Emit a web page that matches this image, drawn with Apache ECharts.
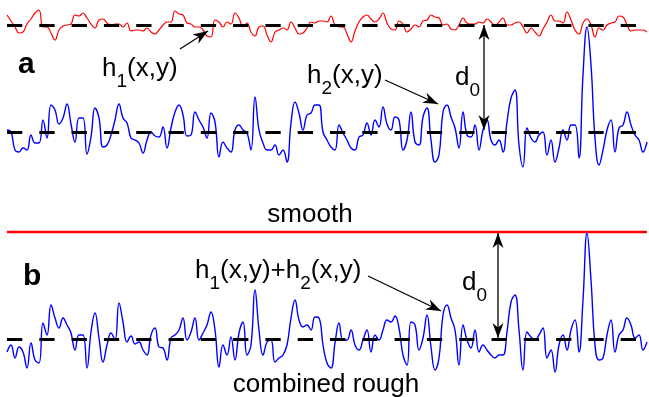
<!DOCTYPE html>
<html>
<head>
<meta charset="utf-8">
<script src="https://cdn.jsdelivr.net/npm/echarts@6/dist/echarts.min.js"></script>
<style>
  html, body { margin: 0; padding: 0; background: #fff; }
  #chart { width: 649px; height: 397px; }
</style>
</head>
<body>
<div id="chart"></div>
<script>
// gap between the two mean planes
const d0 = 107;

// h1: top (red) rough surface, deviation from its mean
const h1 = [
  10, 4, -2, -8, -7, 1, 6, 12, 15, -2, -2, -8, -15, -5, -1, 0, 1, 10, 9, 12, 7, 1, -3, 5, 6, 2, -1, 1, 1, -2,
  2, -6, -5, -5, -6, -3, -7, -9, -5, 0, 3, 3, 14, 11, 10, 2, 1, -2, -2, -5, -11, -12, 5, 3,
  -2, 3, 1, 12, 7, -2, 2, -7, -11, -2, -1, -10, -17, -7, -5, -3, -5, 3, -3, -9, -8, -3, 3, 2, 4, 4, 3, 9, 0, -2,
  -2, -9, -17, -6, 3, 8, 10, 6, 3, 6, 12, 2, -4, -5, 4, 1, -7, -4, 0, -2, 4, 5, 10,
  8, 7, 0, 1, -4, -5, 0, 7, 2, 1, 1, 3, 2, 6, 3, -1, 3, 7, 0, 0, 2, 3, -2, -8, -3, -7, -11, -4, 3, 10,
  4, 4, 2, 13, 5, -5, -9, 2, 6, 0, -12, -3, -5, 0, 2, 3, 9, 8, 0, -6, -5, -5, -5, -7
];

// h2: bottom (blue) rough surface
const h2 = [
  2, 0, -18, -20, -16, -18, -3, -11, -11, 12, -6, 27, 22, 8, 14, 28, 8, -10, 14, 14, -22, -5, 24, 14, -15, -13, -3, 12, 28, 14,
  9, -6, -8, -11, -21, -8, 0, -4, -5, 5, -16, 4, 20, 27, 17, -4, -3, 20, 12, 5, -6, 19, 10, -25,
  -10, -16, -20, 2, 7, 2, -1, -18, 35, 2, -11, -18, -18, -13, -23, -18, -30, 9, 30, 19, 2, 17, 19, 27, 27, 0, -8, -15, -18, 7,
  -1, -8, -16, -18, -5, -3, 9, -3, 12, 5, 25, 8, 2, 15, 12, -18, -8, 20, -10, -13, 15, 24, -8,
  -30, -23, 20, 27, 15, 4, -16, 20, -3, -5, 7, -18, 2, 12, -8, -13, -8, -20, 10, 34, 42, -13, -35, 4, -6, -10, -3, 0, -23, -8,
  -30, -16, 2, -8, 7, 7, -26, 57, 105, 67, -6, -33, -18, 2, 12, -20, 4, 7, 20, 7, -3, -8, -20, -10
];

// combined rough surface (panel b)
const hSum = [
  -13, -6, -19, -8, -13, -29, -4, -21, -24, 16, 4, 34, 21, 11, 21, 14, 6, -11, 4, 4, -29, 7, 26, 1, -23, -6, 6, -1, 36, 17,
  -3, 3, -5, -3, -11, -16, 4, 11, -8, -9, -21, 1, 4, 9, 21, -1, 7, 21, -1, 6, 14, 27, 9, -28,
  -6, -16, 2, -21, 6, 17, -16, -6, 49, 9, -16, -3, -1, -23, -19, -16, -6, 21, 39, 19, 12, 14, 9, 22, 21, -6, -24, -29, -4, 16,
  -1, -1, 9, -6, -11, -1, 9, -13, 4, -1, 9, 19, 17, 23, 11, -16, -26, 17, 14, -11, 1, 24, -8,
  -31, -19, 24, 34, 21, 9, -26, 14, -1, -9, 9, -13, -6, -11, -16, -19, -16, -16, 7, 37, 44, 9, -31, 7, 2, -1, 4, 11, -19, -11,
  -33, -6, 4, -11, 9, 19, -13, 39, 106, 59, -6, -21, -19, 4, 19, -13, 4, 9, 21, 14, 1, 4, -11, -3
];

const xs = h1.map((_, i) => String(i));

const FONT = '"Liberation Sans", Arial, Helvetica, sans-serif';
const RED = '#ff0000';
const BLUE = '#0000ff';

const chart = echarts.init(document.getElementById('chart'));

const meanLines = (values) => ({
  silent: true,
  symbol: ['none', 'none'],
  label: { show: false },
  lineStyle: { color: '#000', width: 3, type: [15.3, 17], opacity: 1 },
  emphasis: { disabled: true },
  data: values.map((v) => ({ yAxis: v })),
});

// black barbed arrow head with tip at (tx,ty), coming from (fx,fy)
function arrowHead(tx, ty, fx, fy) {
  const len = Math.hypot(tx - fx, ty - fy);
  const ux = (tx - fx) / len, uy = (ty - fy) / len;
  const nx = -uy, ny = ux;
  const L = 15, W = 5.5, notch = 4.5;
  return {
    type: 'polygon',
    shape: {
      points: [
        [tx, ty],
        [tx - ux * L + nx * W, ty - uy * L + ny * W],
        [tx - ux * (L - notch), ty - uy * (L - notch)],
        [tx - ux * L - nx * W, ty - uy * L - ny * W],
      ],
    },
    style: { fill: '#000' },
    z: 20,
  };
}

function arrow(x1, y1, x2, y2, both) {
  return [
    { type: 'line', shape: { x1, y1, x2, y2 }, style: { stroke: '#000', lineWidth: 1.3 }, z: 20 },
    arrowHead(x2, y2, x1, y1),
    ...(both ? [arrowHead(x1, y1, x2, y2)] : []),
  ];
}

const richStyle = {
  n: { fontSize: 26, lineHeight: 44, fontFamily: FONT, color: '#000' },
  s: { fontSize: 19, lineHeight: 19, verticalAlign: 'bottom', fontFamily: FONT, color: '#000' },
};

// rich label placed by the baseline of its normal-size text
function subLabel(x, baseline, text) {
  return {
    type: 'text',
    x,
    y: baseline - 31,
    z: 20,
    style: { text, rich: richStyle, align: 'left', verticalAlign: 'top', fill: '#000' },
  };
}

function plainLabel(x, baseline, text, size, bold, align) {
  return {
    type: 'text',
    x,
    y: baseline - size * 0.3465,
    z: 20,
    style: {
      text,
      fontSize: size,
      fontFamily: FONT,
      fontWeight: bold ? 'bold' : 'normal',
      fill: '#000',
      align: align || 'left',
      verticalAlign: 'middle',
    },
  };
}

const option = {
  animation: false,
  backgroundColor: '#fff',
  grid: [
    { left: 7, right: 2, top: 0, height: 192 },
    { left: 7, right: 2, top: 200, height: 197 },
  ],
  xAxis: [
    { type: 'category', gridIndex: 0, data: xs, boundaryGap: false, show: false },
    { type: 'category', gridIndex: 1, data: xs, boundaryGap: false, show: false },
  ],
  yAxis: [
    { type: 'value', gridIndex: 0, min: -60, max: 132, show: false },
    { type: 'value', gridIndex: 1, min: -58, max: 139, show: false },
  ],
  series: [
    {
      name: 'h1',
      type: 'line',
      xAxisIndex: 0,
      yAxisIndex: 0,
      data: h1.map((v) => d0 + v),
      symbol: 'none',
      smooth: 0.45,
      lineStyle: { color: RED, width: 1.2 },
      z: 2,
    },
    {
      name: 'h2',
      type: 'line',
      xAxisIndex: 0,
      yAxisIndex: 0,
      data: h2,
      symbol: 'none',
      smooth: 0.45,
      lineStyle: { color: BLUE, width: 1.4 },
      z: 3,
      markLine: meanLines([d0, 0]),
    },
    {
      name: 'smooth',
      type: 'line',
      xAxisIndex: 1,
      yAxisIndex: 1,
      data: hSum.map(() => d0),
      symbol: 'none',
      lineStyle: { color: RED, width: 2.5 },
      z: 2,
    },
    {
      name: 'combined',
      type: 'line',
      xAxisIndex: 1,
      yAxisIndex: 1,
      data: hSum,
      symbol: 'none',
      smooth: 0.45,
      lineStyle: { color: BLUE, width: 1.4 },
      z: 3,
      markLine: meanLines([0]),
    },
  ],
  graphic: [
    plainLabel(18, 75, 'a', 30, true),
    plainLabel(23, 287, 'b', 30, true),
    subLabel(102, 78, '{n|h}{s|1}{n|(x,y)}'),
    subLabel(307, 85, '{n|h}{s|2}{n|(x,y)}'),
    subLabel(455, 87, '{n|d}{s|0}'),
    subLabel(195, 280, '{n|h}{s|1}{n|(x,y)+h}{s|2}{n|(x,y)}'),
    subLabel(462, 292, '{n|d}{s|0}'),
    plainLabel(310, 224, 'smooth', 26, false, 'center'),
    plainLabel(326, 394, 'combined rough', 26, false, 'center'),
    ...arrow(180, 49, 208, 31),
    ...arrow(385, 80, 438, 104),
    ...arrow(484, 130, 484, 25, true),
    ...arrow(368, 276, 441, 311),
    ...arrow(498, 338, 498, 233, true),
  ],
};

chart.setOption(option);
</script>
</body>
</html>
